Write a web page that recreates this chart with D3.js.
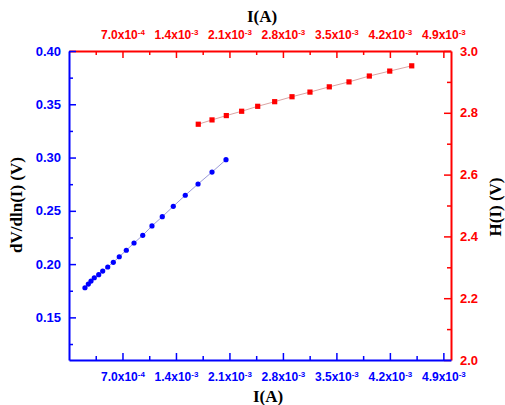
<!DOCTYPE html>
<html>
<head>
<meta charset="utf-8">
<script src="https://cdn.jsdelivr.net/npm/d3@7"></script>
<style>
  body { margin: 0; background: #fff; }
  text { font-family: "Liberation Sans", Arial, sans-serif; font-weight: bold; }
  .title { font-family: "Liberation Serif", "Times New Roman", serif; font-size: 17px; fill: #000; }
</style>
</head>
<body>
<svg width="505" height="405"></svg>
<script>
// current values shared by both curves (A)
const currentBlue = [2.09e-4, 2.53e-4, 2.88e-4, 3.31e-4, 3.89e-4, 4.41e-4, 5.07e-4, 5.80e-4,
  6.58e-4, 7.50e-4, 8.51e-4, 9.65e-4, 1.086e-3, 1.221e-3, 1.365e-3, 1.522e-3,
  1.689e-3, 1.872e-3, 2.055e-3];
const dVdlnI = [0.1778, 0.1813, 0.1841, 0.1872, 0.1901, 0.1935, 0.1973, 0.2017,
  0.2069, 0.2130, 0.2198, 0.2270, 0.2358, 0.2445, 0.2542, 0.2646,
  0.2752, 0.2864, 0.2980];

const currentRed = [1.692e-3, 1.872e-3, 2.059e-3, 2.260e-3, 2.470e-3, 2.692e-3, 2.919e-3,
  3.154e-3, 3.407e-3, 3.665e-3, 3.931e-3, 4.198e-3, 4.486e-3];
const HofI = [2.763, 2.777, 2.791, 2.805, 2.821, 2.836, 2.852,
  2.867, 2.884, 2.900, 2.919, 2.935, 2.952];

const xTicks = [7e-4, 1.4e-3, 2.1e-3, 2.8e-3, 3.5e-3, 4.2e-3, 4.9e-3];
const leftTicks = [0.15, 0.20, 0.25, 0.30, 0.35, 0.40];
const rightTicks = [2.0, 2.2, 2.4, 2.6, 2.8, 3.0];

const svg = d3.select("svg");
const blue = "#0000ff", red = "#ff0000";

const x = d3.scaleLinear().domain([0, 5e-3]).range([69, 451]);
const yL = d3.scaleLinear().domain([0.11, 0.40]).range([360, 51]);
const yR = d3.scaleLinear().domain([2.0, 3.0]).range([360, 51]);

// minor ticks halfway between majors
const xMinor = d3.range(0, 7).map(i => 3.5e-4 + i * 7e-4);
const leftMinor = d3.range(0, 6).map(i => 0.125 + i * 0.05);
const rightMinor = d3.range(0, 5).map(i => 2.1 + i * 0.2);

function sciLabel(sel) {
  sel.each(function(d) {
    const [m, e] = d3.format(".1e")(d).split("e");
    const t = d3.select(this).text(null);
    t.append("tspan").text(m + "x10");
    t.append("tspan").attr("font-size", "8px").attr("dy", "-0.5em").text(e.replace("+", ""));
  });
}

function styleAxis(g, color, size) {
  g.selectAll("path, line").attr("stroke", color);
  g.select("path").attr("stroke-width", 2);
  g.selectAll(".tick line").attr("stroke-width", 1.5);
  g.selectAll("text").attr("fill", color).attr("font-size", size)
    .attr("font-family", "'Liberation Sans', Arial, sans-serif").attr("font-weight", "bold");
}

function minorAxis(axisFn, scale, ticks, transform, color) {
  const g = svg.append("g").attr("transform", transform)
    .call(axisFn(scale).tickValues(ticks).tickSize(-4).tickFormat(""));
  g.select("path").remove();
  g.selectAll("line").attr("stroke", color).attr("stroke-width", 1.5);
}

minorAxis(d3.axisBottom, x, xMinor, "translate(0,360)", blue);
minorAxis(d3.axisTop, x, xMinor, "translate(0,51)", red);
minorAxis(d3.axisLeft, yL, leftMinor, "translate(69,0)", blue);
minorAxis(d3.axisRight, yR, rightMinor, "translate(451,0)", red);

const gTop = svg.append("g").attr("transform", "translate(0,51)")
  .call(d3.axisTop(x).tickValues(xTicks).tickSize(-7).tickSizeOuter(0).tickPadding(12));
gTop.selectAll(".tick text").call(sciLabel);
styleAxis(gTop, red, "12px");

const gRight = svg.append("g").attr("transform", "translate(451,0)")
  .call(d3.axisRight(yR).tickValues(rightTicks).tickSize(-7).tickSizeOuter(0).tickPadding(9)
    .tickFormat(d3.format(".1f")));
styleAxis(gRight, red, "13px");

const gBottom = svg.append("g").attr("transform", "translate(0,360)")
  .call(d3.axisBottom(x).tickValues(xTicks).tickSize(-7).tickSizeOuter(0).tickPadding(12));
gBottom.selectAll(".tick text").call(sciLabel);
styleAxis(gBottom, blue, "12px");

const gLeft = svg.append("g").attr("transform", "translate(69,0)")
  .call(d3.axisLeft(yL).tickValues(leftTicks).tickSize(-7).tickSizeOuter(0).tickPadding(8)
    .tickFormat(d3.format(".2f")));
styleAxis(gLeft, blue, "13px");

// blue series: dV/dln(I)
const blueData = currentBlue.map((c, i) => [c, dVdlnI[i]]);
svg.append("path").datum(blueData)
  .attr("fill", "none").attr("stroke", "#9a9ad8").attr("stroke-width", 1)
  .attr("d", d3.line().x(d => x(d[0])).y(d => yL(d[1])));
svg.append("g").selectAll("circle").data(blueData).enter().append("circle")
  .attr("cx", d => x(d[0])).attr("cy", d => yL(d[1])).attr("r", 2.6).attr("fill", blue);

// red series: H(I)
const redData = currentRed.map((c, i) => [c, HofI[i]]);
svg.append("path").datum(redData)
  .attr("fill", "none").attr("stroke", "#dba3a3").attr("stroke-width", 1)
  .attr("d", d3.line().x(d => x(d[0])).y(d => yR(d[1])));
svg.append("g").selectAll("rect").data(redData).enter().append("rect")
  .attr("x", d => x(d[0]) - 2.6).attr("y", d => yR(d[1]) - 2.6)
  .attr("width", 5.2).attr("height", 5.2).attr("fill", red);

// titles
svg.append("text").attr("class", "title").attr("x", 262).attr("y", 22)
  .attr("text-anchor", "middle").text("I(A)");
svg.append("text").attr("class", "title").attr("x", 268).attr("y", 402)
  .attr("text-anchor", "middle").text("I(A)");
svg.append("text").attr("class", "title")
  .attr("transform", "translate(22,205) rotate(-90)")
  .attr("text-anchor", "middle").text("dV/dln(I) (V)");
svg.append("text").attr("class", "title")
  .attr("transform", "translate(501,207) rotate(-90)")
  .attr("text-anchor", "middle").text("H(I) (V)");
</script>
</body>
</html>
